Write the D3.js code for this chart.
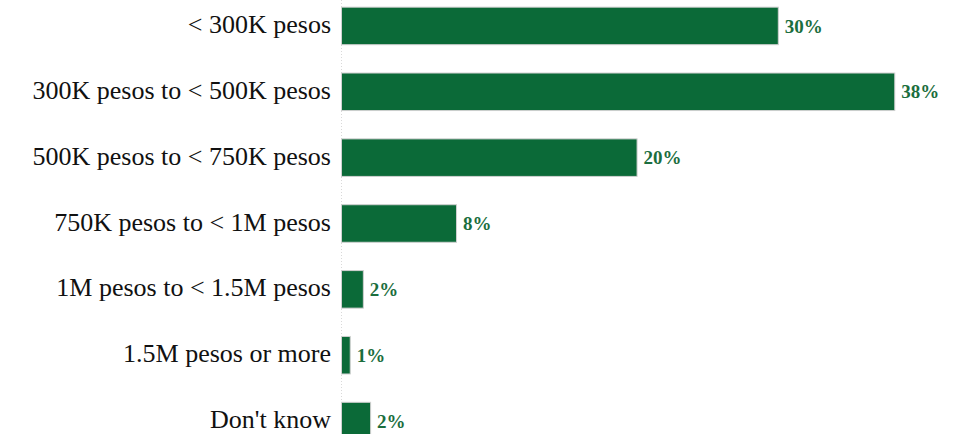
<!DOCTYPE html>
<html>
<head>
<meta charset="utf-8">
<script src="https://cdn.jsdelivr.net/npm/d3@7"></script>
<style>
  body { margin: 0; background: #fff; }
  svg { display: block; }
</style>
</head>
<body>
<div id="chart"></div>
<script>
var categories = [
    "< 300K pesos",
    "300K pesos to < 500K pesos",
    "500K pesos to < 750K pesos",
    "750K pesos to < 1M pesos",
    "1M pesos to < 1.5M pesos",
    "1.5M pesos or more",
    "Don't know"
];

var values = [30, 38, 20.3, 7.9, 1.5, 0.6, 2.0];

function createChart(div) {
    var width = 963, height = 434;

    var svg = d3.select(div)
        .append("svg")
        .attr("width", width)
        .attr("height", height);

    var x = d3.scaleLinear()
        .domain([0, 40])
        .range([341, 923.4]);

    var y = d3.scaleBand()
        .domain(categories)
        .range([-7, 454])
        .paddingInner(0.43)
        .paddingOuter(0.215);

    // dotted baseline
    svg.append("line")
        .attr("x1", x(0) + 0.5)
        .attr("x2", x(0) + 0.5)
        .attr("y1", 0)
        .attr("y2", height)
        .attr("stroke", "#d9d9d9")
        .attr("stroke-dasharray", "1,2");

    var rows = svg.selectAll("g.row")
        .data(categories)
        .enter().append("g")
        .attr("class", "row");

    rows.append("rect")
        .attr("x", x(0) + 0.5)
        .attr("y", function(d) { return y(d); })
        .attr("width", function(d, i) { return x(values[i]) - x(0); })
        .attr("height", y.bandwidth())
        .attr("fill", "#0b6a38")
        .attr("stroke", "#d0d0d0")
        .attr("stroke-width", 1);

    rows.append("text")
        .attr("x", 331)
        .attr("y", function(d) { return y(d) + y.bandwidth() / 2; })
        .attr("dy", ".27em")
        .attr("text-anchor", "end")
        .style("font-family", "'Liberation Serif', 'Times New Roman', serif")
        .style("font-size", "26px")
        .style("fill", "#111")
        .text(function(d) { return d; });

    rows.append("text")
        .attr("x", function(d, i) { return x(values[i]) + 7; })
        .attr("y", function(d) { return y(d) + y.bandwidth() / 2; })
        .attr("dy", ".35em")
        .style("font-family", "'Liberation Serif', 'Times New Roman', serif")
        .style("font-size", "19px")
        .style("font-weight", "bold")
        .style("fill", "#1b6e3e")
        .text(function(d, i) { return Math.round(values[i]) + "%"; });
}

createChart("#chart");
</script>
</body>
</html>
